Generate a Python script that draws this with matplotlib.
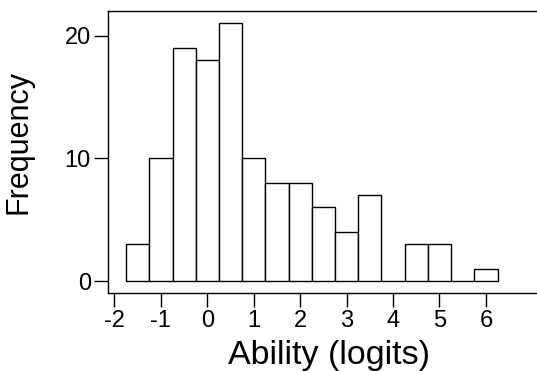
import matplotlib
matplotlib.use("Agg")
import matplotlib.pyplot as plt

# bin centres (logits) and counts, bin width 0.5
centres = [-1.5, -1.0, -0.5, 0.0, 0.5, 1.0, 1.5, 2.0, 2.5, 3.0, 3.5, 4.0, 4.5, 5.0, 5.5, 6.0]
counts = [3, 10, 19, 18, 21, 10, 8, 8, 6, 4, 7, 0, 3, 3, 0, 1]
xticks = [-2, -1, 0, 1, 2, 3, 4, 5, 6]
yticks = [0, 10, 20]

plt.rcParams['font.family'] = ['Liberation Sans', 'DejaVu Sans']
plt.rcParams['axes.unicode_minus'] = False

fig = plt.figure(figsize=(5.37, 3.71), dpi=100)
ax = fig.add_axes([0.2002, 0.2102, 0.7998, 0.7602])

ax.bar(centres, counts, width=0.5, facecolor='white', edgecolor='black', linewidth=1.0)

ax.set_xlim(-2.15, 7.1)
ax.set_ylim(-0.97, 22.0)
ax.set_xticks(xticks)
ax.set_yticks(yticks)
ax.tick_params(direction='out', length=10, width=1, labelsize=17, pad=2)
ax.spines['right'].set_visible(False)
for s in ax.spines.values():
    s.set_linewidth(1)
    s.set_color('black')

ax.set_xlabel("Ability (logits)", fontsize=24.5)
ax.set_ylabel("Frequency", fontsize=22)
ax.xaxis.set_label_coords(0.516, -0.165)
ax.yaxis.set_label_coords(-0.173, 0.535)

fig.savefig("out.png", dpi=100)
